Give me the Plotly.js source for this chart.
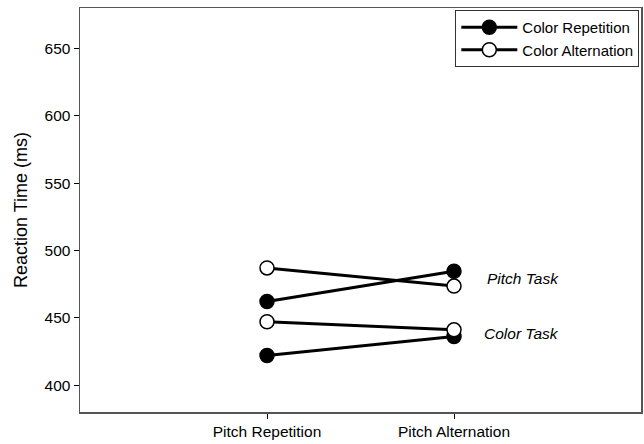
<!DOCTYPE html>
<html>
<head>
<meta charset="utf-8">
<script src="https://cdn.plot.ly/plotly-3.0.1.min.js"></script>
<style>html,body{margin:0;padding:0;background:#fff;}#chart{width:644px;height:444px;}</style>
</head>
<body>
<div id="chart"></div>
<script>
var categories = ["Pitch Repetition", "Pitch Alternation"];
var pitchTaskColorRep = [462, 484.5];
var pitchTaskColorAlt = [487, 473.5];
var colorTaskColorRep = [422, 436];
var colorTaskColorAlt = [447, 441];
var yTicks = [400, 450, 500, 550, 600, 650];
var seriesNames = ["Color Repetition", "Color Alternation"];
var taskLabels = ["Pitch Task", "Color Task"];

var font = "Liberation Sans, Arial, sans-serif";
function trace(y, filled, name, show) {
  return {
    x: categories, y: y, type: "scatter", mode: "lines+markers",
    name: name, legendgroup: name, showlegend: show,
    line: {color: "#000", width: 3},
    marker: {size: 14, color: filled ? "#000" : "#fff", line: {color: "#000", width: 1.5}}
  };
}
var data = [
  trace(pitchTaskColorRep, true, seriesNames[0], true),
  trace(colorTaskColorRep, true, seriesNames[0], false),
  trace(pitchTaskColorAlt, false, seriesNames[1], true),
  trace(colorTaskColorAlt, false, seriesNames[1], false)
];
var layout = {
  width: 644, height: 444,
  margin: {l: 80, r: 3, t: 8, b: 32},
  paper_bgcolor: "#fff", plot_bgcolor: "#fff",
  font: {family: font, size: 15.5, color: "#000"},
  showlegend: true,
  legend: {x: 0.997, y: 0.995, xanchor: "right", yanchor: "top",
    bordercolor: "#333", borderwidth: 1, bgcolor: "#fff",
    font: {family: font, size: 15}, tracegroupgap: 0, itemwidth: 56},
  xaxis: {type: "category", range: [-1, 2], showgrid: false, zeroline: false,
    showline: true, linecolor: "#555", linewidth: 1.5, mirror: true,
    ticks: "outside", ticklen: 5, tickcolor: "#000", tickwidth: 1,
    tickfont: {family: font, size: 15.5}, fixedrange: true},
  yaxis: {range: [380, 680], tickvals: yTicks, showgrid: false, zeroline: false,
    showline: true, linecolor: "#555", linewidth: 1.5, mirror: true,
    ticks: "outside", ticklen: 5, tickcolor: "#000", tickwidth: 1,
    tickfont: {family: font, size: 15.5},
    title: {text: "Reaction Time (ms)", font: {family: font, size: 18}, standoff: 12}},
  annotations: [
    {x: 1, y: (pitchTaskColorRep[1] + pitchTaskColorAlt[1]) / 2, xref: "x", yref: "y",
     text: "<i>" + taskLabels[0] + "</i>", showarrow: false, xanchor: "left", xshift: 31,
     font: {family: font, size: 15.5}},
    {x: 1, y: (colorTaskColorRep[1] + colorTaskColorAlt[1]) / 2, xref: "x", yref: "y",
     text: "<i>" + taskLabels[1] + "</i>", showarrow: false, xanchor: "left", xshift: 28,
     font: {family: font, size: 15.5}}
  ]
};
Plotly.newPlot("chart", data, layout, {displayModeBar: false, staticPlot: true});
</script>
</body>
</html>
